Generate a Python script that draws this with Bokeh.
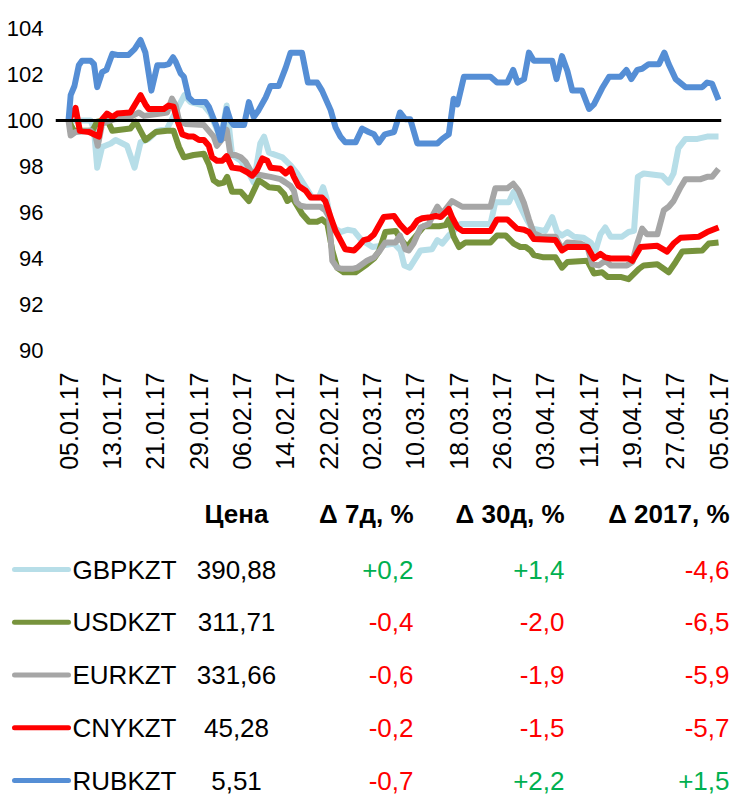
import math
from datetime import date, datetime
from bokeh.plotting import figure
from bokeh.layouts import column
from bokeh.models import Range1d, FixedTicker, Span, ColumnDataSource
from bokeh.core.properties import value
from bokeh.embed import file_html
from bokeh.resources import INLINE

# ---------------- data ----------------
start_date = date(2017, 1, 5)
x_tick_labels = ["05.01.17", "13.01.17", "21.01.17", "29.01.17", "06.02.17", "14.02.17",
                 "22.02.17", "02.03.17", "10.03.17", "18.03.17", "26.03.17", "03.04.17",
                 "11.04.17", "19.04.17", "27.04.17", "05.05.17"]
y_ticks = [90, 92, 94, 96, 98, 100, 102, 104]

# days since 05.01.2017, index values (05.01.2017 = 100)
gbp_days = [0, 4.1, 4.7, 5.3, 6.2, 7.8, 8.7, 10.8, 12.2, 13.3, 14.8, 16.4, 18.2, 19.4, 21.4, 22.5, 25.0, 26.2, 28.1, 29.2, 30.2, 31.8, 33.0, 34.2, 35.4, 36.1, 37.0, 39.5, 41.0, 42.2, 43.4, 45.0, 46.2, 47.0, 47.6, 48.4, 49.3, 50.2, 51.5, 52.7, 53.9, 55.1, 56.1, 57.6, 60.1, 61.3, 62.0, 63.0, 65.0, 67.1, 68.1, 69.0, 70.2, 72.4, 77.9, 78.8, 81.3, 82.2, 83.4, 84.7, 85.6, 88.0, 89.3, 90.2, 91.1, 92.1, 93.3, 95.1, 96.4, 97.3, 98.2, 99.1, 100.1, 102.2, 103.4, 104.4, 105.1, 106.2, 109.6, 110.8, 111.7, 112.6, 113.9, 116.1, 117.9, 120.0]
gbp_vals = [100.0, 100.0, 99.6, 97.95, 98.85, 99.0, 99.15, 98.9, 97.95, 99.05, 99.2, 99.55, 99.65, 100.2, 101.1, 100.8, 100.65, 100.3, 99.2, 100.65, 98.5, 98.25, 97.85, 97.3, 99.0, 99.3, 98.6, 98.4, 98.05, 97.7, 97.25, 96.65, 96.65, 97.1, 96.65, 95.65, 95.3, 95.15, 95.25, 95.2, 94.85, 94.65, 94.5, 94.55, 94.65, 94.35, 93.7, 93.6, 94.35, 94.4, 94.8, 94.65, 95.0, 95.5, 95.5, 96.45, 96.45, 96.9, 96.25, 95.65, 95.3, 95.2, 95.8, 95.15, 95.0, 95.15, 94.95, 94.9, 94.7, 94.35, 95.05, 95.35, 94.95, 94.95, 95.15, 95.2, 97.55, 97.7, 97.6, 97.3, 97.7, 98.8, 99.2, 99.2, 99.3, 99.3]

usd_days = [0, 1.0, 4.4, 5.3, 7.1, 8.1, 11.4, 12.4, 14.2, 16.1, 18.2, 19.4, 20.4, 21.3, 23.1, 25.0, 25.9, 26.8, 27.7, 28.7, 29.3, 30.2, 31.8, 33.3, 34.2, 35.1, 36.1, 37.0, 38.8, 39.8, 40.4, 41.3, 43.1, 44.4, 45.9, 46.8, 47.8, 48.7, 49.6, 50.8, 53.0, 55.1, 56.4, 57.3, 58.5, 60.4, 61.3, 62.5, 63.5, 65.6, 68.4, 69.6, 70.2, 71.1, 72.1, 73.3, 77.9, 79.1, 80.7, 82.2, 83.4, 84.4, 85.3, 85.9, 87.7, 89.9, 91.1, 92.1, 95.8, 97.0, 98.5, 99.5, 101.9, 103.4, 105.3, 106.2, 108.7, 110.8, 112.1, 113.3, 117.0, 118.2, 120.0]
usd_vals = [100.0, 99.55, 99.55, 99.95, 100.05, 99.55, 99.65, 99.95, 99.15, 99.5, 99.55, 99.55, 98.85, 98.4, 98.5, 98.55, 98.1, 97.4, 97.25, 97.3, 97.55, 96.9, 96.9, 96.5, 96.95, 97.4, 97.25, 97.1, 97.05, 96.8, 96.5, 96.65, 95.95, 95.6, 95.6, 95.7, 95.5, 94.35, 93.6, 93.4, 93.4, 93.75, 94.0, 94.3, 95.15, 95.2, 94.85, 94.5, 94.8, 95.4, 95.4, 95.45, 95.7, 94.95, 94.5, 94.7, 94.7, 95.0, 95.0, 94.65, 94.5, 94.5, 94.35, 94.15, 94.05, 94.05, 93.6, 93.85, 93.9, 93.35, 93.4, 93.2, 93.2, 93.1, 93.55, 93.7, 93.75, 93.4, 93.85, 94.3, 94.35, 94.65, 94.7]

eur_days = [0, 0.4, 1.3, 4.1, 5.0, 5.4, 6.2, 7.1, 8.4, 10.8, 11.8, 13.0, 13.9, 17.0, 18.2, 19.1, 19.8, 20.4, 21.6, 25.0, 25.9, 26.8, 27.4, 28.7, 29.2, 29.9, 30.8, 31.8, 32.7, 33.9, 36.1, 37.3, 39.1, 40.1, 41.0, 41.6, 42.1, 42.8, 43.8, 46.5, 47.4, 48.1, 48.7, 49.6, 50.5, 52.4, 53.3, 54.2, 55.1, 56.4, 57.5, 58.5, 60.4, 61.2, 62.2, 62.8, 63.7, 65.0, 66.5, 67.4, 68.1, 69.0, 70.8, 72.7, 77.9, 78.8, 81.0, 82.1, 83.1, 84.1, 85.0, 85.9, 87.4, 89.9, 91.1, 92.1, 94.5, 95.8, 96.7, 97.9, 99.1, 100.1, 103.1, 104.1, 105.0, 105.9, 106.8, 108.7, 109.9, 110.8, 111.7, 113.0, 113.9, 116.7, 117.9, 118.8, 120.0]
eur_vals = [100.0, 99.35, 99.5, 99.55, 99.3, 98.9, 99.85, 99.95, 100.05, 100.1, 100.2, 100.35, 100.2, 100.3, 100.35, 100.95, 100.65, 100.0, 99.85, 99.8, 99.55, 99.3, 98.9, 99.3, 99.6, 98.5, 98.5, 98.4, 98.2, 97.7, 97.6, 97.55, 97.45, 97.3, 97.15, 96.95, 96.45, 96.3, 96.25, 96.25, 96.1, 95.8, 93.9, 93.6, 93.55, 93.55, 93.6, 93.75, 93.9, 94.05, 94.35, 94.7, 94.7, 95.0, 94.4, 94.35, 94.65, 95.35, 95.5, 95.95, 96.25, 95.95, 96.5, 96.25, 96.25, 97.05, 97.05, 97.25, 96.95, 96.4, 95.7, 95.1, 94.95, 94.95, 94.4, 94.7, 94.65, 94.5, 93.75, 93.7, 93.9, 93.7, 93.7, 93.85, 94.65, 95.3, 95.05, 95.05, 96.1, 96.25, 96.5, 97.1, 97.45, 97.45, 97.55, 97.55, 97.9]

cny_days = [0, 1.3, 2.1, 3.8, 4.7, 5.6, 6.2, 7.1, 8.1, 9.0, 11.4, 13.3, 14.2, 14.8, 17.6, 18.5, 19.4, 20.1, 21.0, 22.2, 23.1, 24.1, 25.0, 25.9, 26.5, 27.4, 28.4, 29.2, 30.2, 31.8, 33.0, 33.9, 34.8, 35.8, 36.7, 37.3, 39.1, 40.1, 41.0, 41.6, 42.5, 43.8, 44.7, 46.8, 47.4, 48.4, 49.3, 50.2, 51.1, 52.7, 53.6, 54.5, 55.4, 56.4, 57.0, 58.2, 60.1, 61.3, 62.5, 63.5, 64.4, 65.3, 66.8, 67.8, 68.7, 69.6, 70.2, 70.8, 71.8, 72.7, 77.9, 79.1, 81.0, 82.8, 84.1, 85.0, 85.9, 89.9, 91.1, 92.1, 95.8, 97.0, 98.2, 99.1, 100.1, 103.4, 104.1, 105.6, 108.7, 110.5, 111.7, 113.0, 116.4, 117.9, 120.0]
cny_vals = [100.0, 100.55, 99.55, 99.5, 99.4, 99.3, 100.05, 100.3, 100.15, 100.3, 100.35, 101.1, 100.7, 100.5, 100.5, 100.65, 100.6, 100.0, 99.4, 99.3, 99.3, 99.15, 99.15, 98.9, 98.4, 98.25, 98.25, 98.45, 97.95, 97.9, 97.75, 97.6, 97.85, 98.35, 98.25, 97.95, 97.9, 97.7, 97.9, 97.55, 97.15, 96.95, 96.65, 96.65, 96.5, 95.8, 95.2, 94.8, 94.4, 94.35, 94.55, 94.8, 94.85, 95.05, 95.3, 95.8, 95.85, 95.45, 95.15, 95.35, 95.65, 95.75, 95.8, 95.85, 95.8, 96.0, 96.15, 95.8, 95.35, 95.2, 95.2, 95.7, 95.7, 95.3, 95.25, 95.15, 94.85, 94.8, 94.35, 94.5, 94.5, 94.0, 94.2, 94.05, 94.0, 94.0, 93.9, 94.5, 94.55, 94.3, 94.65, 94.9, 94.95, 95.15, 95.35]

rub_days = [0, 0.4, 1.1, 1.9, 2.5, 4.1, 4.7, 5.3, 6.2, 7.0, 8.1, 9.0, 11.1, 12.2, 13.3, 14.2, 15.3, 16.4, 17.6, 18.5, 19.3, 19.8, 20.7, 21.3, 22.2, 23.1, 25.3, 25.9, 27.4, 28.1, 29.2, 29.9, 30.5, 32.4, 33.3, 34.2, 35.1, 36.4, 37.3, 38.8, 40.1, 41.0, 43.1, 44.2, 45.9, 46.8, 48.4, 49.3, 50.2, 51.1, 53.0, 54.2, 55.4, 56.4, 57.3, 58.4, 60.1, 61.2, 62.2, 63.1, 64.4, 68.1, 69.0, 70.2, 71.1, 71.8, 73.0, 77.9, 79.1, 81.0, 82.1, 82.9, 84.1, 85.0, 85.9, 89.3, 90.1, 91.1, 92.1, 93.0, 94.8, 96.1, 97.0, 98.5, 99.8, 101.9, 103.0, 103.9, 105.0, 105.9, 107.1, 109.0, 110.0, 110.8, 112.1, 113.9, 117.0, 117.9, 118.8, 120.0]
rub_vals = [100.0, 101.1, 101.5, 102.4, 102.6, 102.6, 102.45, 101.45, 102.1, 102.2, 102.9, 102.85, 102.85, 103.1, 103.5, 102.95, 101.3, 102.4, 102.4, 102.45, 102.75, 102.55, 102.05, 101.9, 101.0, 100.8, 100.8, 100.6, 99.7, 99.15, 100.5, 100.0, 99.8, 99.8, 100.8, 100.15, 100.45, 101.0, 101.5, 101.5, 102.3, 102.95, 102.95, 101.65, 101.65, 101.3, 100.45, 99.7, 99.3, 99.05, 99.05, 99.65, 99.5, 99.4, 99.05, 99.4, 99.5, 100.35, 100.05, 100.05, 99.0, 99.0, 99.2, 99.4, 100.95, 100.7, 101.9, 101.9, 101.65, 101.65, 102.2, 101.65, 101.8, 102.95, 102.6, 102.6, 101.8, 102.8, 102.15, 101.3, 101.3, 100.5, 100.7, 101.4, 101.9, 101.9, 102.2, 101.8, 102.2, 102.25, 102.45, 102.45, 102.95, 102.45, 101.8, 101.45, 101.45, 101.65, 101.6, 100.9]

pairs = ["GBPKZT", "USDKZT", "EURKZT", "CNYKZT", "RUBKZT"]
prices = ["390,88", "311,71", "331,66", "45,28", "5,51"]
chg_7d = [0.2, -0.4, -0.6, -0.2, -0.7]
chg_30d = [1.4, -2.0, -1.9, -1.5, 2.2]
chg_ytd = [-4.6, -6.5, -5.9, -5.7, 1.5]
headers = ["Цена", "Δ 7д, %", "Δ 30д, %", "Δ 2017, %"]

series_days = [gbp_days, usd_days, eur_days, cny_days, rub_days]
series_vals = [gbp_vals, usd_vals, eur_vals, cny_vals, rub_vals]

# ---------------- style ----------------
colors = ["#B7DEE8", "#77933C", "#A6A6A6", "#FF0000", "#558ED5"]
POS, NEG = "#00B050", "#FF0000"
FONT = "Liberation Sans"

# ---------------- chart ----------------
tick_days = [(datetime.strptime(s, "%d.%m.%y").date() - start_date).days for s in x_tick_labels]

p = figure(frame_width=666, frame_height=322,
           x_range=Range1d(-2.4, 120.55), y_range=Range1d(90, 104),
           output_backend="svg", toolbar_location=None, frame_align=False,
           min_border_left=55, min_border_right=11, min_border_top=28, min_border_bottom=130)
p.grid.grid_line_color = None
p.outline_line_color = None

p.add_layout(Span(location=100, dimension="width", line_color="black", line_width=3))

for d, v, c in zip(series_days, series_vals, colors):
    assert len(d) == len(v)
    p.line(d, v, line_color=c, line_width=6, line_join="round")

yax = p.yaxis[0]
yax.ticker = FixedTicker(ticks=y_ticks)
yax.axis_line_color = None
yax.major_tick_line_color = None
yax.minor_tick_line_color = None
yax.major_tick_out = 0
yax.major_tick_in = 0
yax.major_label_standoff = 12
yax.major_label_text_font = FONT
yax.major_label_text_font_size = "22px"
yax.major_label_text_color = "black"

xax = p.xaxis[0]
xax.ticker = FixedTicker(ticks=tick_days)
xax.major_label_overrides = {t: s for t, s in zip(tick_days, x_tick_labels)}
xax.major_label_orientation = math.pi / 2
xax.axis_line_color = None
xax.major_tick_line_color = None
xax.minor_tick_line_color = None
xax.major_tick_out = 0
xax.major_tick_in = 0
xax.major_label_standoff = 22
xax.major_label_text_font = FONT
xax.major_label_text_font_size = "25px"
xax.major_label_text_color = "black"

# ---------------- table ----------------
TW, TH = 732, 316
t = figure(frame_width=TW, frame_height=TH, x_range=Range1d(0, TW), y_range=Range1d(TH, 0),
           output_backend="svg", toolbar_location=None, min_border=0, frame_align=False,
           x_axis_location=None, y_axis_location=None)
t.grid.visible = False
t.outline_line_color = None

header_y = 33
row_y0, row_step = 89, 52.75
price_x = 236
chg_x = [413, 564, 729]
FS = "26px"

t.text(x=[price_x] + chg_x, y=[header_y] * 4, text=headers,
       text_align=["center", "right", "right", "right"], text_baseline="middle",
       text_font=value(FONT), text_font_style="bold", text_font_size=FS, text_color="black")

rows_y = [row_y0 + i * row_step for i in range(len(pairs))]
t.segment(x0=[14] * len(pairs), y0=rows_y, x1=[68] * len(pairs), y1=rows_y,
          line_color=colors, line_width=5, line_cap="round")
t.text(x=[72] * len(pairs), y=rows_y, text=pairs, text_align="left", text_baseline="middle",
       text_font=value(FONT), text_font_size=FS, text_color="black")
t.text(x=[price_x] * len(pairs), y=rows_y, text=prices, text_align="center", text_baseline="middle",
       text_font=value(FONT), text_font_size=FS, text_color="black")

def fmt(v):
    return f"{v:+.1f}".replace(".", ",")

for cx, vals in zip(chg_x, [chg_7d, chg_30d, chg_ytd]):
    src = ColumnDataSource(dict(x=[cx] * len(vals), y=rows_y, text=[fmt(v) for v in vals],
                                color=[POS if v > 0 else NEG for v in vals]))
    t.text(x="x", y="y", text="text", source=src, text_color="color", text_align="right",
           text_baseline="middle", text_font=value(FONT), text_font_size=FS)

layout = column(p, t, spacing=0)
open("out.html", "w").write(file_html(layout, INLINE))
